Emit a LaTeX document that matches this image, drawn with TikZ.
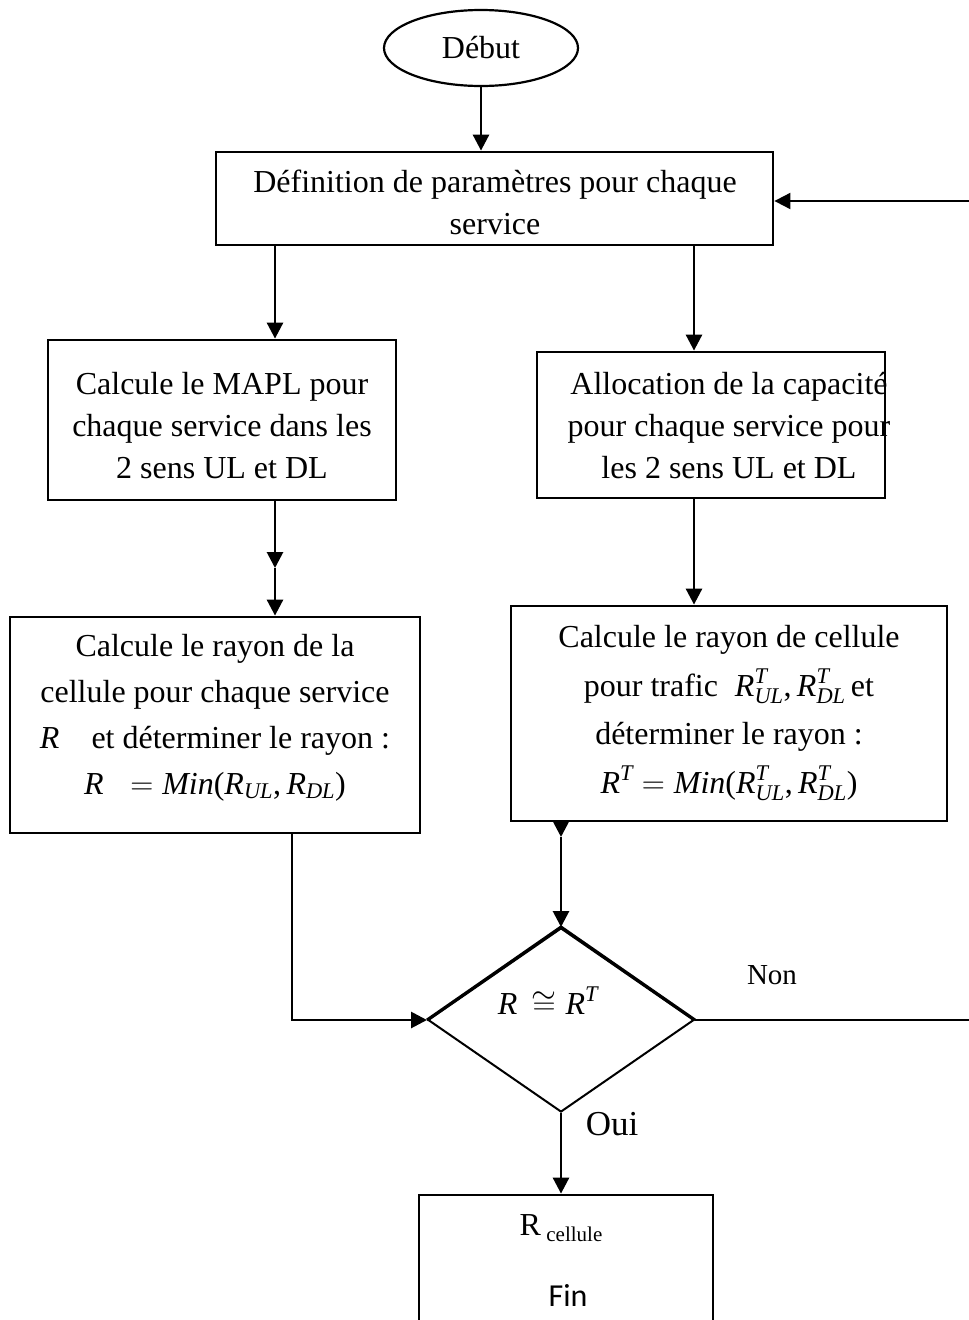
\RequirePackage{fix-cm}
\documentclass[tikz,border=0pt]{standalone}
\usepackage{amsmath}
\usepackage{fontspec}
\setmainfont{Liberation Serif}
\newfontfamily\finfont{Carlito}
\usetikzlibrary{arrows.meta,shapes.geometric}

\newcommand{\Ri}{\textit{R}}
\newcommand{\sub}[1]{_{\textit{#1}}}

\begin{document}
\begin{tikzpicture}[x=1pt,y=-1pt,
  txt/.style={font=\fontsize{32}{42}\selectfont,align=center,inner sep=0pt},
  box/.style={draw,line width=2.8pt,inner sep=0pt},
  tip/.style={-{Triangle[length=16pt,width=16pt]}},
  flow/.style={line width=2.8pt,tip},
  back/.style={line width=2pt,tip}]
\useasboundingbox (0,0) rectangle (969,1320);

% columns used by the vertical connectors
\coordinate (colA) at (275,0);
\coordinate (colB) at (694,0);
\coordinate (colC) at (561,0);
\coordinate (colD) at (292,0);

% start
\node[draw,ellipse,line width=2.2pt,minimum width=194pt,minimum height=76pt,inner sep=0pt,txt] (debut) at (481,48) {Début};

% parameter definition (text anchors sit on the last baseline)
\node[box,minimum width=557pt,minimum height=93pt] (def) at (494.5,198.5) {};
\node[txt,anchor=base] (defT) at (495,234) {Définition de paramètres pour chaque\\service};

% two branches
\node[box,minimum width=348pt,minimum height=160pt] (mapl) at (222,420) {};
\node[txt,anchor=base] (maplT) at (222,478) {Calcule le MAPL pour\\chaque service dans les\\2 sens UL et DL};

\node[box,minimum width=348pt,minimum height=146pt] (alloc) at (711,425) {};
\node[txt,anchor=base] (allocT) at (729,478) {Allocation de la capacité\\pour chaque service pour\\les 2 sens UL et DL};

\node[box,minimum width=410pt,minimum height=216pt] (rayL) at (215,725) {};
\node[txt,font=\fontsize{32}{46}\selectfont,anchor=base] (rayLT) at (215,794) {Calcule le rayon de la\\cellule pour chaque service\\$\Ri$\quad et déterminer le rayon :\\$\Ri\;\; = \textit{Min}\textup{(}\Ri\sub{UL}\textup{,}\,\Ri\sub{DL}\textup{)}$};

\node[box,minimum width=436pt,minimum height=215pt] (rayR) at (729,713.5) {};
\node[txt,font=\fontsize{32}{48.5}\selectfont,anchor=base] (rayRT) at (729,793) {Calcule le rayon de cellule\\pour trafic\; $\Ri^{\textit{T}}\sub{UL}\textup{,}\,\Ri^{\textit{T}}\sub{DL}$\,et\\déterminer le rayon :\\$\Ri^{\textit{T}} = \textit{Min}\textup{(}\Ri^{\textit{T}}\sub{UL}\textup{,}\,\Ri^{\textit{T}}\sub{DL}\textup{)}$};

% decision
\node[draw,diamond,line width=2pt,minimum width=266pt,minimum height=184pt,inner sep=0pt] (test) at (561,1020) {};
\draw[line width=3pt] (test.west) -- (test.north) -- (test.east);
\node[txt] (testlbl) at (548,1001) {$\Ri\;\,{\cong}\;\Ri^{\textit{T}}$};
\node[font=\fontsize{29}{34}\selectfont] (non) at (772,975) {Non};
\node[font=\fontsize{35}{40}\selectfont] (oui) at (612,1124) {Oui};

% end
\node[box,minimum width=294pt,minimum height=140pt] (finbox) at (566,1265) {};
\node[txt] (rcell) at (561,1228) {R\,\raisebox{-6pt}{\fontsize{21}{24}\selectfont cellule}};
\node[font=\fontsize{32}{38}\finfont] (fin) at (568,1295) {Fin};

% intermediate arrow heads
\coordinate (midL) at (275,568);
\coordinate (midR) at (561,837);
\coordinate (loopB) at (985,1020);

% connectors
\draw[flow] (debut.south) -- (debut.south |- def.north);
\draw[flow] (def.south -| colA) -- (mapl.north -| colA);
\draw[flow] (def.south -| colB) -- (alloc.north -| colB);
\draw[flow] (mapl.south -| colA) -- (midL);
\draw[flow] (midL) -- (rayL.north -| colA);
\draw[flow] (alloc.south -| colB) -- (rayR.north -| colB);
\draw[flow] (rayR.south -| colC) -- (midR);
\draw[flow] (midR) -- (test.north);
\draw[flow] (rayL.south -| colD) |- (test.west);
\draw[flow] (test.south) -- (test.south |- finbox.north);
\draw[line width=2.5pt] (test.east) -- (loopB);
\draw[back] (loopB) |- ([yshift=-2.5pt]def.east);
\end{tikzpicture}
\end{document}
